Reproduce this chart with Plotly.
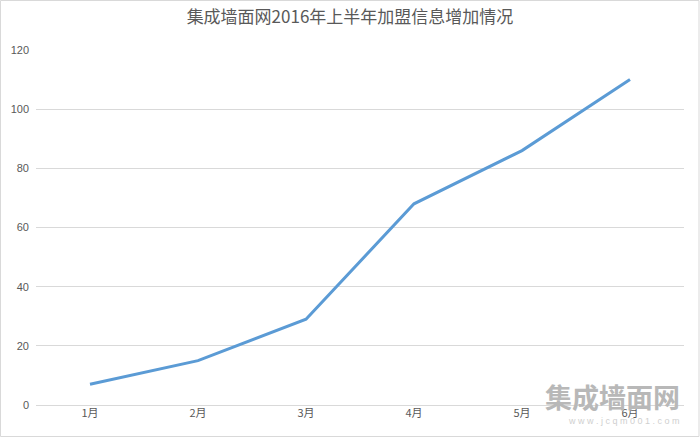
import plotly.graph_objects as go

months = ["1月", "2月", "3月", "4月", "5月", "6月"]
values = [7, 15, 29, 68, 86, 110]
y_ticks = [0, 20, 40, 60, 80, 100, 120]
title_text = "集成墙面网2016年上半年加盟信息增加情况"

fig = go.Figure()
fig.add_trace(go.Scatter(
    x=months, y=values, mode="lines",
    line=dict(color="#5B9BD5", width=3),
    hoverinfo="skip",
))

fig.update_layout(
    width=700, height=438,
    margin=dict(l=36, r=16, t=50, b=33),
    paper_bgcolor="white", plot_bgcolor="white",
    showlegend=False,
    title=dict(text=title_text, x=0.5, xanchor="center", y=0.962, yanchor="middle",
               font=dict(family="Noto Sans CJK SC", size=17, color="#595959")),
    xaxis=dict(type="category", range=[-0.5, 5.5], showgrid=False, zeroline=False,
               showline=False, ticks="",
               tickfont=dict(family="Noto Sans CJK SC", size=11, color="#595959")),
    yaxis=dict(range=[0, 120], tickvals=y_ticks, showgrid=True, gridcolor="#D9D9D9",
               gridwidth=1, zeroline=True, zerolinecolor="#D9D9D9", zerolinewidth=1,
               showline=False, ticks="", ticklabelstandoff=6,
               tickfont=dict(family="Liberation Sans", size=11, color="#595959")),
    shapes=[dict(type="rect", xref="paper", yref="paper",
                 x0=-35.5/648, x1=1 + 15/648, y0=-31.5/355, y1=1 + 49.5/355,
                 line=dict(color="#D9D9D9", width=1), fillcolor="rgba(0,0,0,0)")],
    annotations=[
        dict(text="<b>集成墙面网</b>", xref="paper", yref="paper", x=0.997, y=0.025,
             xanchor="right", yanchor="middle", showarrow=False,
             font=dict(family="Noto Sans CJK SC", size=27, color="#B8B8B8")),
        dict(text="w w w . j c q m 0 0 1 . c o m", xref="paper", yref="paper", x=0.997, y=-0.045,
             xanchor="right", yanchor="middle", showarrow=False,
             font=dict(family="Liberation Sans", size=9, color="#CFCFCF")),
    ],
)

fig.write_html("out.html", config={"displayModeBar": False},
               post_script="document.body.style.margin='0';document.body.style.padding='0';")
